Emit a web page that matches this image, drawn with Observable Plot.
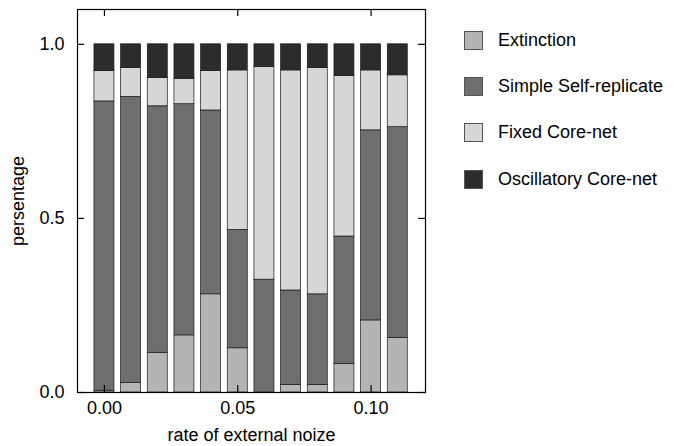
<!DOCTYPE html>
<html><head><meta charset="utf-8">
<script src="https://cdn.jsdelivr.net/npm/d3@7"></script>
<script src="https://cdn.jsdelivr.net/npm/@observablehq/plot@0.6"></script>
<style>
body{margin:0;background:#fff;font-family:"Liberation Sans",Arial,sans-serif;}
#wrap{position:relative;width:681px;height:446px;overflow:hidden;}
.item{position:absolute;left:464px;height:20px;display:flex;align-items:center;font-size:18px;color:#000;white-space:nowrap;}
.sw{width:19px;height:19px;margin-right:15px;box-sizing:border-box;}
</style></head><body><div id="wrap"></div>
<script>
const noise = [0.00, 0.01, 0.02, 0.03, 0.04, 0.05, 0.06, 0.07, 0.08, 0.09, 0.10, 0.11];
const categories = ["Extinction", "Simple Self-replicate", "Fixed Core-net", "Oscillatory Core-net"];
const extinction  = [0.005, 0.027, 0.114, 0.164, 0.282, 0.127, 0.000, 0.022, 0.022, 0.082, 0.207, 0.157];
const simpleSelf  = [0.831, 0.822, 0.708, 0.664, 0.528, 0.340, 0.324, 0.271, 0.260, 0.366, 0.546, 0.605];
const fixedCore   = [0.087, 0.083, 0.081, 0.073, 0.113, 0.458, 0.611, 0.632, 0.650, 0.461, 0.172, 0.149];
const oscillCore  = [0.077, 0.068, 0.097, 0.099, 0.077, 0.075, 0.065, 0.075, 0.068, 0.091, 0.075, 0.089];
const xTicks = [0.00, 0.05, 0.10];
const yTicks = [0.0, 0.5, 1.0];
const colors = ["#b4b4b4", "#6e6e6e", "#d6d6d6", "#2c2c2c"];

const series = [extinction, simpleSelf, fixedCore, oscillCore];
const rows = [];
noise.forEach((x, i) => {
  let acc = 0;
  series.forEach((s, k) => {
    rows.push({x, cat: categories[k], y1: acc, y2: acc + s[i]});
    acc += s[i];
  });
});
const halfW = 0.00375;
const font = 18;
const W = 681, H = 446, mL = 77, mR = 256, mT = 9, mB = 54;
const innerW = W - mL - mR, innerH = H - mT - mB, tick = 7;

const plot = Plot.plot({
  width: W, height: H,
  marginLeft: mL, marginRight: mR, marginTop: mT, marginBottom: mB,
  style: {fontFamily: '"Liberation Sans", Arial, sans-serif', color: "#000", background: "#fff"},
  x: {domain: [-0.0101, 0.1204]},
  y: {domain: [0, 1.1]},
  color: {domain: categories, range: colors},
  marks: [
    Plot.rect(rows, {x1: d => d.x - halfW, x2: d => d.x + halfW, y1: "y1", y2: "y2", fill: "cat", stroke: "#1a1a1a", strokeWidth: 0.7}),
    Plot.frame({stroke: "#000", strokeWidth: 1.2}),
    Plot.tickX(xTicks, {x: d => d, insetTop: innerH - tick, stroke: "#000", strokeWidth: 1.2}),
    Plot.tickX(xTicks, {x: d => d, insetBottom: innerH - tick, stroke: "#000", strokeWidth: 1.2}),
    Plot.tickY(yTicks, {y: d => d, insetRight: innerW - tick, stroke: "#000", strokeWidth: 1.2}),
    Plot.tickY(yTicks, {y: d => d, insetLeft: innerW - tick, stroke: "#000", strokeWidth: 1.2}),
    Plot.axisX({ticks: xTicks, tickFormat: d3.format(".2f"), tickSize: 0, tickPadding: 9, fontSize: font,
      label: "rate of external noize", labelAnchor: "center", labelArrow: "none", labelOffset: 48}),
    Plot.axisY({ticks: yTicks, tickFormat: d3.format(".1f"), tickSize: 0, tickPadding: 13, fontSize: font,
      label: "persentage", labelAnchor: "center", labelArrow: "none", labelOffset: 66})
  ]
});
const wrap = document.getElementById("wrap");
wrap.appendChild(plot);

const centers = [40, 86, 132, 179];
categories.forEach((c, k) => {
  const it = document.createElement("div");
  it.className = "item";
  it.style.top = (centers[k] - 10) + "px";
  const sw = document.createElement("div");
  sw.className = "sw";
  sw.style.background = colors[k];
  sw.style.border = "1px solid #555";
  it.appendChild(sw);
  const t = document.createElement("span");
  t.textContent = c;
  it.appendChild(t);
  wrap.appendChild(it);
});
</script></body></html>
